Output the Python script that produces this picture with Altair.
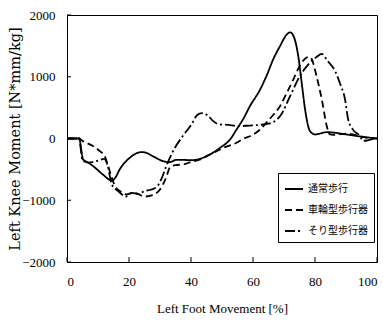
import altair as alt
import pandas as pd

series_names = ["通常歩行", "車輪型歩行器", "そり型歩行器"]

normal_x = [0, 4, 4.5, 5.2, 6.5, 8.5, 11.6, 14.4, 15.5, 17, 20.3, 24, 25.5, 27.8, 31, 33, 35.4, 40.6, 45, 49.4,
            52.6, 54.7, 57, 59, 62.3, 64.5, 66.5, 68.7, 70.9, 72, 73.5, 74.6, 75.7, 76.8, 78.4, 80, 83.8, 90.2, 95, 100]
normal_y = [0, 0, -150, -340, -380, -450, -585, -680, -640, -500, -310, -220, -230, -290, -367, -385, -345, -350, -287, -150,
            -16, 146, 330, 523, 794, 1030, 1280, 1495, 1685, 1720, 1600, 1333, 905, 470, 118, 65, 102, 65, 30, 0]

wheel_x = [0, 4, 5, 6.3, 8.5, 10.6, 12.2, 13.3, 14.4, 15.5, 17, 19.3, 21, 22.5, 25, 27.3, 30, 32, 33.2, 35, 37.5, 40,
           43, 46, 48.3, 51, 54.7, 57, 59, 62.3, 64.4, 66.5, 68.7, 71, 73, 75.7, 77.3, 78.3, 79, 80.5, 82.2, 83.8,
           84.8, 86, 90, 94.5, 97, 100]
wheel_y = [0, 0, -40, -70, -125, -205, -290, -450, -630, -770, -850, -905, -880, -890, -940, -920, -825, -630, -470, -430,
           -420, -380, -340, -260, -205, -140, -70, 0, 37, 146, 260, 380, 523, 750, 955, 1230, 1310, 1320, 1280, 1010,
           632, 200, 65, 60, 80, 37, 10, 0]

sled_x = [0, 4, 4.5, 5, 7, 10, 12, 13, 14.5, 16.5, 19, 21, 23, 25, 27, 29, 30.5, 32, 34.8, 37.5, 40.2, 42, 43.5, 45.5,
          47, 49, 52, 55, 59, 62, 65, 67, 69, 72, 75, 78, 80.5, 82.2, 84, 86.5, 88, 89.7, 90.7, 92.3, 94.5, 95.5, 97, 100]
sled_y = [0, 0, -200, -360, -390, -360, -330, -420, -750, -850, -940, -880, -900, -850, -830, -780, -650, -450, -150, 50,
          230, 380, 410, 370, 290, 230, 220, 200, 210, 220, 240, 280, 380, 690, 1000, 1210, 1320, 1370, 1260, 1090, 900,
          630, 310, 140, 40, -40, -30, 10]

x_ticks = [0, 20, 40, 60, 80, 100]
y_ticks = [-2000, -1000, 0, 1000, 2000]

rows = []
for name, xs, ys in zip(series_names, [normal_x, wheel_x, sled_x], [normal_y, wheel_y, sled_y]):
    for i, (xv, yv) in enumerate(zip(xs, ys)):
        rows.append({"series": name, "x": xv, "y": yv, "order": i})
df = pd.DataFrame(rows)

xscale = alt.Scale(domain=[0, 100], nice=False, zero=False)
yscale = alt.Scale(domain=[-2000, 2000], nice=False)

x_axis = alt.Axis(
    values=x_ticks, format="d", ticks=False, grid=False, labelPadding=13,
    title="Left Foot Movement [%]", titleFont="Liberation Serif", titleFontSize=13,
    titleFontWeight="normal", titleX=155, titleY=46, titleBaseline="middle")
y_axis = alt.Axis(
    values=y_ticks, format="d", ticks=False, grid=False, labelPadding=12,
    title="Left Knee Moment [N*mm/kg]", titleFont="DejaVu Serif", titleFontSize=14.5,
    titleFontWeight="normal", titleX=-52, titleY=123.5, titleAngle=-90,
    titleAlign="center", titleBaseline="middle")

lines = alt.Chart(df).mark_line(color="black", strokeWidth=1.8, interpolate="monotone").encode(
    x=alt.X("x:Q", scale=xscale, axis=x_axis),
    y=alt.Y("y:Q", scale=yscale, axis=y_axis),
    strokeDash=alt.StrokeDash("series:N", scale=alt.Scale(
        domain=series_names, range=[[1, 0], [7, 4], [10, 3, 2, 3]]),
        legend=alt.Legend(title=None, orient="none", legendX=211, legendY=158, padding=6,
                          strokeColor="black", fillColor="white", symbolType="stroke",
                          symbolSize=324, symbolStrokeWidth=2, symbolStrokeColor="black",
                          labelFont="Noto Sans CJK JP", labelFontSize=10, labelColor="black",
                          rowPadding=6, labelOffset=4, cornerRadius=0)),
    order="order:Q",
)

ytick_layer = alt.Chart(pd.DataFrame({"y": y_ticks})).mark_rule(color="black", strokeWidth=1).encode(
    y=alt.Y("y:Q", scale=yscale, axis=y_axis),
    x=alt.value(0), x2=alt.value(4),
)
xtick_layer = alt.Chart(pd.DataFrame({"x": x_ticks})).mark_rule(color="black", strokeWidth=1).encode(
    x=alt.X("x:Q", scale=xscale, axis=x_axis),
    y=alt.value(247), y2=alt.value(242),
)

chart = alt.layer(lines, ytick_layer, xtick_layer).properties(
    width=310, height=247,
    autosize=alt.AutoSizeParams(type="none"),
    padding={"left": 67, "top": 15, "right": 6, "bottom": 65},
    background="white",
).configure_view(stroke="black", strokeWidth=1).configure_axis(
    domainColor="black", domainWidth=1, labelColor="black", titleColor="black",
    labelFont="Liberation Serif", labelFontSize=13,
)

chart.save("out.html", embed_options={"renderer": "svg", "actions": False})
